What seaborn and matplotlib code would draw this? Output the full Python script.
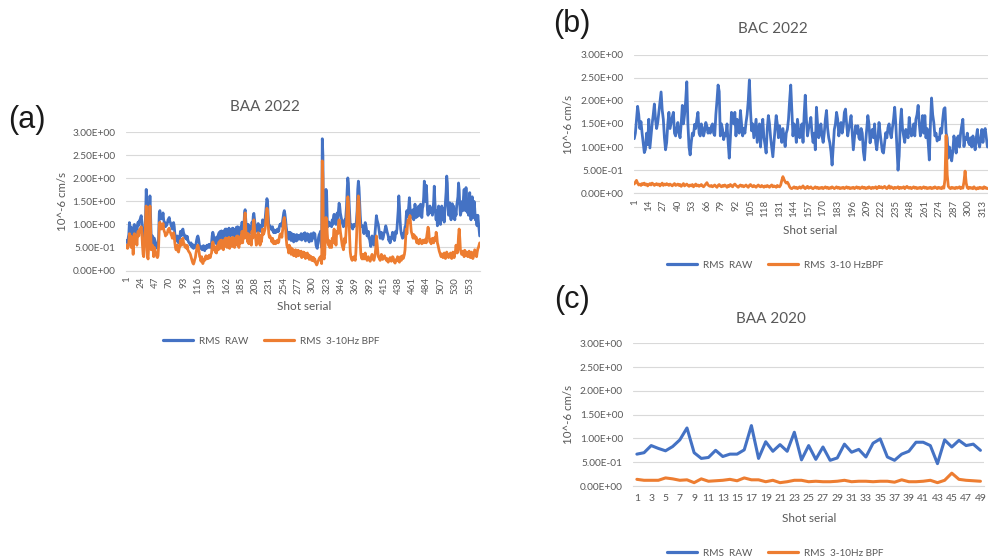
import numpy as np
import pandas as pd
import matplotlib
matplotlib.use("Agg")
import matplotlib.pyplot as plt
from matplotlib.lines import Line2D
from matplotlib.ticker import FuncFormatter
import seaborn as sns

# RMS amplitudes, stored in units of 0.01 x 10^-6 cm/s, one value per shot
baa2022_raw = [
    62, 65, 60, 70, 78, 104, 90, 95, 70, 92, 88, 55, 96, 100, 85, 92, 95, 80, 100, 105,
    98, 108, 110, 115, 119, 105, 80, 55, 50, 75, 95, 120, 176, 140, 60, 55, 90, 130, 162, 120,
    70, 68, 75, 72, 45, 70, 65, 60, 55, 50, 48, 52, 75, 125, 130, 118, 112, 120, 115, 125,
    110, 105, 104, 95, 100, 98, 103, 110, 112, 115, 106, 104, 98, 94, 90, 100, 104, 96, 80, 72,
    65, 70, 75, 62, 60, 68, 72, 85, 80, 76, 88, 90, 82, 78, 72, 70, 75, 68, 74, 66,
    62, 60, 58, 55, 60, 52, 50, 56, 48, 52, 54, 50, 58, 66, 72, 75, 70, 60, 52, 50,
    48, 52, 45, 50, 54, 46, 43, 50, 53, 48, 55, 52, 50, 57, 55, 50, 56, 60, 75, 83,
    78, 65, 72, 60, 70, 58, 68, 75, 65, 82, 72, 85, 70, 86, 78, 84, 68, 86, 75, 90,
    78, 90, 75, 88, 80, 92, 72, 88, 82, 90, 76, 92, 78, 90, 74, 89, 82, 94, 80, 95,
    88, 75, 92, 80, 95, 85, 105, 86, 100, 95, 125, 132, 110, 95, 100, 88, 100, 82, 96, 90,
    94, 80, 105, 95, 118, 124, 112, 100, 95, 85, 98, 88, 102, 86, 92, 85, 98, 88, 95, 110,
    98, 100, 105, 110, 125, 140, 156, 150, 120, 100, 95, 97, 92, 90, 88, 95, 85, 82, 88, 84,
    82, 86, 88, 90, 84, 86, 95, 100, 98, 102, 96, 105, 115, 125, 130, 122, 110, 95, 85, 80,
    75, 68, 83, 70, 82, 65, 80, 72, 78, 62, 78, 70, 75, 64, 78, 66, 76, 70, 75, 68,
    72, 80, 66, 78, 70, 80, 68, 82, 64, 76, 70, 80, 66, 78, 62, 74, 68, 80, 64, 76,
    70, 82, 75, 80, 68, 55, 50, 48, 60, 72, 78, 80, 85, 60, 50, 286, 250, 60, 47, 60,
    120, 176, 165, 110, 95, 100, 105, 98, 102, 100, 95, 110, 100, 115, 122, 105, 118, 100, 120, 125,
    110, 130, 146, 140, 125, 118, 110, 104, 100, 95, 104, 110, 100, 120, 140, 175, 201, 190, 150, 120,
    95, 100, 97, 92, 90, 100, 95, 98, 100, 97, 110, 130, 176, 194, 180, 150, 120, 100, 97, 95,
    97, 85, 80, 95, 104, 98, 90, 75, 80, 85, 70, 68, 60, 52, 68, 75, 70, 60, 55, 68,
    85, 100, 119, 110, 105, 100, 90, 80, 70, 75, 83, 78, 68, 72, 80, 83, 90, 97, 92, 85,
    80, 75, 65, 70, 60, 72, 68, 75, 83, 80, 70, 65, 72, 85, 80, 90, 110, 130, 162, 140,
    110, 90, 80, 75, 70, 80, 72, 85, 95, 97, 120, 130, 118, 125, 140, 158, 137, 125, 118, 115,
    125, 132, 110, 120, 144, 130, 115, 125, 135, 118, 140, 130, 120, 144, 125, 115, 135, 140, 160, 194,
    170, 150, 185, 165, 130, 120, 133, 125, 140, 130, 125, 135, 120, 130, 150, 183, 150, 125, 110, 130,
    97, 120, 140, 115, 130, 100, 125, 140, 110, 120, 135, 105, 130, 150, 170, 205, 190, 140, 120, 130,
    147, 120, 110, 135, 145, 115, 140, 125, 110, 130, 120, 140, 150, 160, 190, 175, 140, 120, 126, 135,
    150, 130, 160, 176, 145, 130, 180, 150, 126, 140, 120, 150, 169, 130, 110, 140, 160, 125, 115, 150,
    135, 110, 120, 100, 97, 120, 105, 90, 75,
]
baa2022_bpf = [
    50, 55, 48, 52, 60, 80, 70, 75, 50, 72, 68, 35, 75, 80, 60, 70, 75, 55, 78, 85,
    75, 88, 90, 92, 95, 80, 55, 35, 30, 45, 75, 100, 140, 110, 30, 25, 55, 100, 140, 90,
    45, 50, 55, 48, 30, 50, 45, 40, 35, 30, 28, 32, 55, 100, 105, 95, 90, 98, 95, 102,
    90, 85, 82, 75, 80, 78, 82, 88, 90, 92, 85, 82, 78, 75, 70, 80, 82, 75, 60, 50,
    45, 50, 55, 42, 40, 48, 52, 65, 60, 55, 68, 70, 60, 58, 52, 50, 55, 48, 54, 45,
    42, 40, 38, 35, 30, 25, 20, 16, 14, 18, 24, 28, 38, 45, 52, 55, 50, 40, 30, 28,
    20, 30, 22, 15, 20, 25, 22, 28, 32, 25, 30, 28, 26, 33, 30, 28, 35, 38, 55, 62,
    58, 45, 52, 40, 50, 38, 48, 55, 45, 62, 50, 65, 48, 66, 55, 62, 45, 65, 52, 70,
    55, 70, 50, 68, 58, 72, 48, 66, 60, 70, 52, 72, 55, 70, 50, 68, 60, 74, 55, 75,
    60, 50, 72, 58, 75, 62, 85, 60, 80, 70, 110, 125, 90, 70, 80, 62, 80, 58, 74, 65,
    72, 55, 85, 70, 98, 110, 90, 75, 68, 55, 76, 62, 82, 60, 70, 55, 76, 62, 72, 90,
    78, 80, 85, 90, 105, 120, 135, 130, 100, 80, 72, 75, 70, 68, 62, 70, 60, 58, 64, 60,
    58, 62, 64, 66, 60, 62, 72, 78, 75, 80, 72, 85, 95, 110, 115, 105, 90, 70, 55, 50,
    48, 38, 55, 42, 50, 35, 48, 40, 45, 32, 42, 36, 45, 30, 40, 35, 44, 32, 42, 36,
    34, 42, 28, 38, 32, 40, 30, 38, 26, 35, 30, 38, 28, 34, 24, 32, 26, 30, 22, 28,
    22, 28, 20, 25, 18, 15, 12, 15, 20, 22, 26, 28, 30, 22, 15, 238, 200, 30, 25, 35,
    90, 115, 110, 80, 60, 55, 65, 50, 62, 58, 50, 70, 60, 75, 90, 60, 78, 55, 80, 85,
    80, 100, 110, 100, 85, 75, 65, 55, 50, 45, 55, 70, 60, 80, 100, 140, 160, 150, 110, 70,
    40, 30, 25, 22, 28, 25, 30, 26, 22, 40, 70, 110, 150, 162, 150, 110, 60, 35, 28, 25,
    35, 28, 25, 32, 38, 30, 26, 22, 28, 30, 24, 22, 20, 26, 30, 35, 28, 24, 22, 28,
    35, 50, 75, 60, 45, 30, 28, 25, 22, 30, 35, 28, 24, 26, 30, 32, 28, 25, 22, 26,
    20, 18, 22, 25, 28, 22, 20, 25, 30, 28, 22, 18, 16, 20, 24, 22, 30, 28, 20, 18,
    25, 30, 22, 28, 32, 26, 30, 35, 45, 70, 90, 80, 100, 110, 105, 112, 119, 100, 85, 80,
    75, 70, 78, 72, 75, 68, 72, 60, 66, 62, 58, 64, 68, 62, 60, 58, 64, 66, 60, 65,
    62, 68, 60, 75, 85, 94, 88, 70, 62, 66, 58, 64, 70, 62, 60, 65, 72, 66, 83, 75,
    60, 55, 48, 42, 38, 34, 30, 36, 32, 28, 35, 38, 30, 26, 34, 40, 36, 30, 28, 35,
    30, 38, 30, 26, 34, 40, 32, 28, 36, 42, 55, 45, 38, 50, 75, 90, 70, 45, 40, 35,
    35, 42, 38, 30, 44, 36, 32, 40, 34, 30, 38, 42, 33, 28, 35, 40, 30, 26, 30, 38,
    45, 40, 35, 30, 40, 47, 50, 55, 60,
]

bac2022_raw = [
    118, 130, 160, 188, 170, 140, 155, 130, 110, 88, 95, 130, 105, 160, 98, 125, 150, 170, 193, 160,
    140, 153, 175, 195, 219, 180, 160, 120, 94, 110, 150, 175, 140, 153, 165, 175, 130, 124, 140, 153,
    130, 120, 150, 190, 150, 170, 200, 241, 150, 100, 83, 110, 130, 125, 149, 140, 160, 175, 130, 124,
    150, 140, 124, 135, 153, 145, 130, 140, 130, 145, 150, 130, 125, 170, 200, 234, 220, 124, 150, 138,
    116, 130, 124, 150, 110, 76, 120, 175, 160, 150, 175, 124, 160, 150, 130, 179, 150, 124, 140, 130,
    153, 170, 200, 245, 180, 135, 150, 120, 140, 160, 110, 130, 150, 100, 140, 160, 120, 105, 87, 140,
    168, 150, 120, 100, 79, 110, 140, 168, 150, 120, 146, 130, 110, 140, 120, 101, 130, 138, 160, 200,
    234, 180, 124, 150, 140, 110, 160, 140, 120, 130, 150, 110, 170, 212, 160, 124, 140, 150, 164, 130,
    110, 130, 94, 186, 150, 120, 130, 150, 124, 110, 130, 160, 179, 140, 120, 109, 90, 61, 100, 138,
    150, 175, 160, 124, 140, 153, 130, 145, 175, 182, 150, 124, 140, 153, 168, 130, 94, 120, 146, 130,
    146, 120, 116, 140, 130, 90, 72, 110, 140, 168, 150, 109, 130, 138, 120, 150, 110, 94, 120, 153,
    130, 110, 90, 87, 110, 131, 120, 142, 150, 130, 120, 142, 160, 186, 150, 100, 50, 80, 150, 182,
    140, 124, 110, 138, 130, 120, 164, 140, 124, 130, 150, 124, 160, 170, 190, 150, 124, 140, 168, 130,
    168, 120, 140, 109, 72, 150, 206, 170, 153, 124, 130, 113, 120, 116, 140, 130, 160, 182, 185, 130,
    120, 76, 100, 87, 70, 90, 124, 110, 87, 120, 124, 100, 130, 146, 160, 101, 120, 116, 130, 110,
    105, 120, 100, 124, 110, 94, 120, 138, 110, 100, 120, 138, 110, 135, 140, 120, 100,
]
bac2022_bpf = [
    20, 24, 28, 22, 18, 20, 17, 21, 19, 22, 18, 20, 16, 19, 21, 18, 22, 20, 17, 19,
    21, 18, 20, 16, 19, 22, 17, 20, 18, 21, 19, 17, 20, 18, 16, 19, 21, 17, 18, 20,
    17, 19, 15, 18, 21, 16, 18, 20, 17, 15, 18, 16, 19, 14, 17, 20, 16, 18, 15, 17,
    19, 16, 14, 17, 20, 23, 18, 16, 15, 17, 14, 16, 18, 15, 13, 17, 19, 16, 14, 17,
    15, 18, 16, 13, 17, 15, 19, 16, 14, 18, 20, 17, 15, 13, 16, 18, 15, 17, 14, 16,
    18, 15, 13, 17, 19, 16, 14, 17, 15, 13, 16, 18, 15, 14, 17, 15, 13, 16, 14, 17,
    15, 13, 16, 18, 14, 16, 15, 13, 17, 15, 14, 18, 28, 36, 30, 25, 22, 24, 20, 14,
    11, 10, 12, 14, 11, 13, 10, 12, 14, 11, 13, 16, 12, 10, 13, 15, 11, 12, 14, 11,
    10, 12, 14, 11, 13, 10, 12, 11, 13, 10, 12, 14, 11, 13, 10, 12, 11, 14, 12, 10,
    12, 14, 11, 13, 10, 12, 11, 13, 10, 12, 14, 11, 13, 10, 12, 11, 13, 10, 12, 14,
    11, 13, 10, 12, 14, 11, 13, 10, 12, 11, 14, 12, 10, 13, 11, 12, 14, 10, 12, 15,
    12, 14, 11, 13, 15, 12, 10, 13, 16, 11, 14, 12, 10, 13, 11, 12, 14, 10, 13, 11,
    12, 14, 10, 13, 15, 12, 11, 13, 10, 12, 14, 11, 13, 10, 12, 11, 13, 10, 12, 14,
    11, 13, 10, 12, 11, 13, 10, 12, 11, 14, 12, 10, 13, 11, 12, 10, 14, 11, 30, 125,
    40, 15, 12, 10, 13, 11, 12, 10, 13, 11, 12, 14, 10, 13, 11, 25, 48, 22, 12, 10,
    13, 11, 12, 10, 14, 11, 9, 12, 10, 13, 11, 12, 10, 14, 11, 12, 10,
]

baa2020_raw = [
    67, 70, 85, 79, 74, 83, 97, 122, 70, 58, 60, 75, 62, 67, 67, 76, 127, 58, 93, 73,
    87, 73, 113, 55, 85, 56, 82, 54, 59, 88, 71, 77, 61, 90, 99, 61, 54, 67, 73, 92,
    92, 85, 47, 97, 82, 96, 85, 88, 75,
]
baa2020_bpf = [
    14, 12, 12, 12, 17, 15, 12, 13, 7, 15, 10, 11, 12, 14, 11, 17, 13, 13, 9, 12,
    7, 9, 12, 12, 9, 10, 9, 9, 10, 12, 9, 10, 10, 9, 10, 10, 8, 13, 9, 9,
    10, 12, 7, 12, 27, 14, 12, 11, 10,
]

RAW_NAME = "RMS  RAW"
BLUE = "#4472C4"
ORANGE = "#ED7D31"
GRID = "#D9D9D9"
TXT = "#595959"

sns.set_style("white")
plt.rcParams["font.family"] = ["Lato", "DejaVu Sans"]

W, H = 988, 560
fig = plt.figure(figsize=(W / 100, H / 100), dpi=100)


def long_frame(raw, bpf, bpf_name):
    parts = []
    for name, vals in ((RAW_NAME, raw), (bpf_name, bpf)):
        vals = np.asarray(vals, dtype=float) / 100.0
        parts.append(pd.DataFrame({"shot": np.arange(1, len(vals) + 1),
                                   "rms": vals, "series": name}))
    return pd.concat(parts, ignore_index=True)


def panel(box, raw, bpf, bpf_name, step, rotate, title, title_xy, tag, tag_xy,
          ylab_xy, xlab_xy, legend_xy, lw, xpad):
    left, top, right, bottom = box
    ax = fig.add_axes([left / W, 1 - bottom / H, (right - left) / W, (bottom - top) / H])
    df = long_frame(raw, bpf, bpf_name)
    sns.lineplot(data=df, x="shot", y="rms", hue="series", palette=[BLUE, ORANGE],
                 linewidth=lw, estimator=None, legend=False, ax=ax)
    n = max(len(raw), len(bpf))
    ax.set_xlim(0.5, n + 0.5)
    ax.set_ylim(0, 3.0)
    ax.set_yticks(np.arange(0, 3.01, 0.5))
    ax.yaxis.set_major_formatter(FuncFormatter(lambda v, p: f"{v:.2E}"))
    ticks = list(range(1, n + 1, step))
    ax.set_xticks(ticks)
    ax.set_xticklabels([str(t) for t in ticks], rotation=90 if rotate else 0)
    ax.set_xlabel("")
    ax.set_ylabel("")
    ax.yaxis.grid(True, color=GRID, linewidth=0.8)
    ax.xaxis.grid(False)
    ax.set_axisbelow(True)
    for s in ("left", "right", "top"):
        ax.spines[s].set_visible(False)
    ax.spines["bottom"].set_color(GRID)
    ax.spines["bottom"].set_linewidth(0.8)
    ax.tick_params(axis="y", length=0, pad=7.5, labelsize=7.3, labelcolor=TXT)
    ax.tick_params(axis="x", length=0, pad=xpad, labelsize=7 if rotate else 7.5,
                   labelcolor=TXT)

    fig.text(title_xy[0] / W, 1 - title_xy[1] / H, title, ha="center", va="center",
             fontsize=11, color=TXT)
    fig.text(tag_xy[0] / W, 1 - tag_xy[1] / H, tag, ha="center", va="center",
             fontsize=22, color="#1a1a1a", family=["Liberation Sans", "DejaVu Sans"])
    fig.text(ylab_xy[0] / W, 1 - ylab_xy[1] / H, "10^-6 cm/s", ha="center", va="center",
             rotation=90, fontsize=8.3, color=TXT)
    fig.text(xlab_xy[0] / W, 1 - xlab_xy[1] / H, "Shot serial", ha="center", va="center",
             fontsize=8.5, color=TXT)
    handles = [Line2D([], [], color=BLUE, lw=2.3), Line2D([], [], color=ORANGE, lw=2.3)]
    ax.legend(handles, [RAW_NAME, bpf_name], loc="center",
              bbox_to_anchor=(legend_xy[0] / W, 1 - legend_xy[1] / H),
              bbox_transform=fig.transFigure, ncol=2, frameon=False, fontsize=7.2,
              labelcolor=TXT, handlelength=3.0, handletextpad=0.6, columnspacing=1.6)
    return ax


panel((126, 132.3, 480, 270.5), baa2022_raw, baa2022_bpf, "RMS  3-10Hz BPF", 23, True,
      "BAA 2022", (265, 107), "(a)", (26.5, 120), (62, 201), (304, 307), (271, 341), 2.0, 4.5)
panel((633.7, 54.5, 988, 193.3), bac2022_raw, bac2022_bpf, "RMS  3-10 HzBPF", 13, True,
      "BAC 2022", (773, 29), "(b)", (572, 24), (568, 124), (810, 230), (775, 265), 2.0, 4.5)
panel((633.3, 343.3, 984, 486), baa2020_raw, baa2020_bpf, "RMS  3-10Hz BPF", 2, False,
      "BAA 2020", (771, 319), "(c)", (572, 300), (568, 414), (809, 519), (775, 553), 2.2, 6)

fig.savefig("out.png", dpi=100, facecolor="white")
